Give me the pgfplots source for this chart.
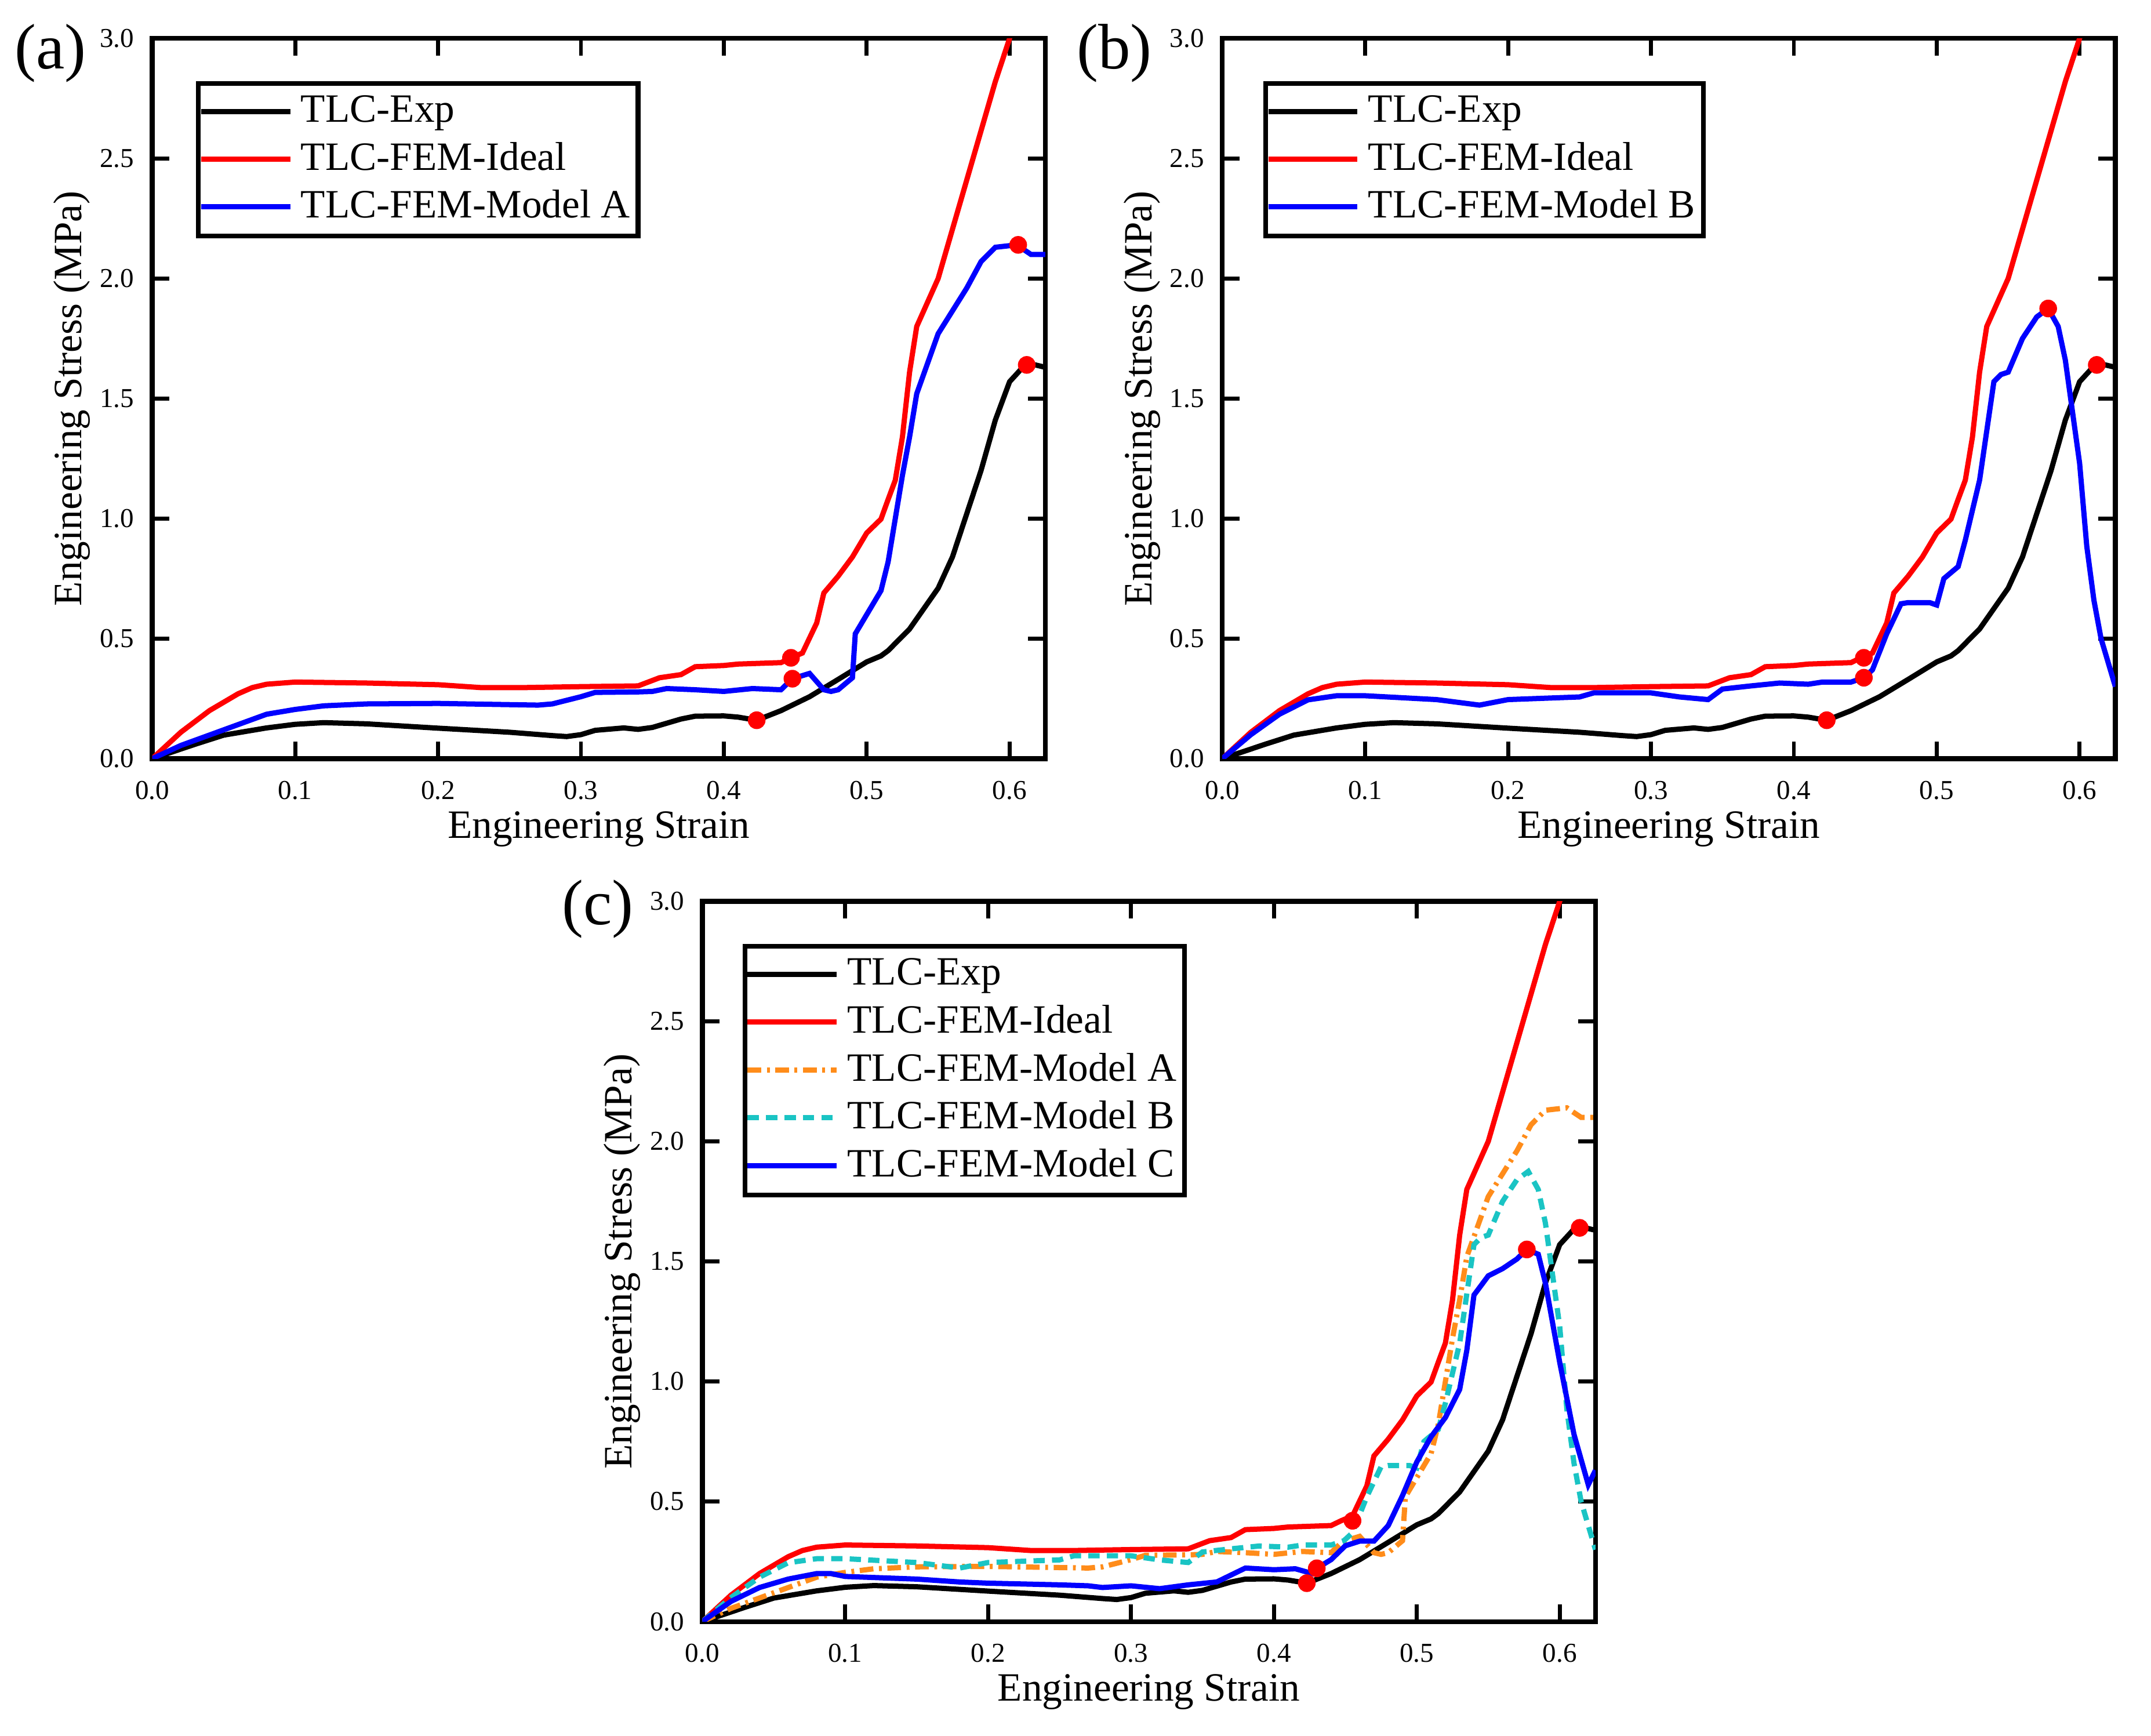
\documentclass[border=0pt]{standalone}
\usepackage{fontspec}
\setmainfont{Liberation Serif}
\usepackage{pgfplots}
\usepackage{pgfplotstable}
\pgfplotsset{compat=1.18}

\definecolor{morange}{RGB}{255,140,26}
\definecolor{mcyan}{RGB}{26,196,196}

% digitised curves: strain, stress (MPa)
\pgfplotstableread{
x y
0.000 0.000
0.010 0.020
0.020 0.040
0.030 0.060
0.050 0.098
0.080 0.128
0.100 0.143
0.120 0.150
0.150 0.145
0.200 0.127
0.250 0.110
0.280 0.096
0.290 0.092
0.300 0.100
0.310 0.118
0.330 0.128
0.340 0.122
0.350 0.130
0.370 0.165
0.380 0.177
0.400 0.178
0.410 0.173
0.423 0.160
0.440 0.200
0.460 0.258
0.480 0.330
0.500 0.403
0.510 0.428
0.515 0.450
0.530 0.540
0.550 0.710
0.560 0.840
0.580 1.200
0.590 1.410
0.600 1.570
0.610 1.635
0.618 1.640
0.625 1.630
}\expdata

\pgfplotstableread{
x y
0.000 0.000
0.020 0.110
0.040 0.200
0.050 0.235
0.060 0.270
0.070 0.296
0.080 0.310
0.100 0.319
0.150 0.315
0.200 0.308
0.230 0.296
0.260 0.296
0.300 0.300
0.340 0.303
0.355 0.337
0.370 0.350
0.380 0.383
0.400 0.388
0.410 0.394
0.440 0.400
0.447 0.420
0.455 0.440
0.465 0.565
0.470 0.690
0.480 0.760
0.490 0.840
0.500 0.940
0.510 0.998
0.515 1.080
0.520 1.160
0.525 1.340
0.530 1.610
0.535 1.800
0.550 2.000
0.570 2.410
0.590 2.820
0.600 3.000
0.605 3.100
}\idealdata

\pgfplotstableread{
x y
0.000 0.000
0.020 0.055
0.050 0.120
0.080 0.185
0.100 0.205
0.120 0.220
0.150 0.228
0.200 0.230
0.270 0.223
0.280 0.228
0.300 0.258
0.310 0.276
0.340 0.278
0.350 0.280
0.360 0.292
0.380 0.287
0.400 0.280
0.420 0.292
0.440 0.287
0.448 0.333
0.460 0.355
0.470 0.287
0.475 0.280
0.480 0.287
0.490 0.337
0.492 0.520
0.500 0.600
0.510 0.700
0.515 0.820
0.520 1.000
0.525 1.180
0.530 1.340
0.535 1.520
0.550 1.770
0.570 1.960
0.580 2.070
0.590 2.130
0.605 2.140
0.615 2.100
0.625 2.100
}\modelAdata

\pgfplotstableread{
x y
0.000 0.000
0.020 0.100
0.040 0.185
0.060 0.245
0.080 0.262
0.100 0.262
0.150 0.246
0.180 0.223
0.200 0.246
0.250 0.257
0.260 0.274
0.300 0.274
0.320 0.257
0.340 0.246
0.350 0.290
0.370 0.303
0.390 0.315
0.410 0.310
0.420 0.319
0.440 0.319
0.449 0.337
0.455 0.370
0.465 0.520
0.475 0.645
0.480 0.650
0.495 0.650
0.500 0.640
0.505 0.750
0.515 0.800
0.520 0.910
0.530 1.160
0.540 1.570
0.545 1.600
0.550 1.610
0.560 1.750
0.570 1.840
0.578 1.875
0.585 1.800
0.590 1.660
0.600 1.230
0.605 0.885
0.610 0.660
0.615 0.500
0.625 0.300
}\modelBdata

\pgfplotstableread{
x y
0.000 0.000
0.020 0.084
0.040 0.142
0.060 0.177
0.080 0.200
0.090 0.200
0.100 0.188
0.150 0.177
0.180 0.165
0.200 0.160
0.250 0.153
0.270 0.149
0.280 0.142
0.300 0.149
0.320 0.137
0.340 0.153
0.360 0.165
0.380 0.223
0.400 0.216
0.415 0.220
0.427 0.200
0.430 0.222
0.440 0.258
0.450 0.316
0.460 0.335
0.470 0.335
0.480 0.400
0.490 0.525
0.500 0.665
0.510 0.770
0.520 0.850
0.530 0.967
0.535 1.130
0.540 1.360
0.550 1.440
0.560 1.470
0.570 1.510
0.577 1.550
0.585 1.530
0.590 1.410
0.600 1.080
0.610 0.780
0.620 0.570
0.625 0.630
}\modelCdata

\pgfplotsset{
  panel/.style={
    scale only axis, width=7.812cm, height=6.3cm,
    xmin=0, xmax=0.625, ymin=0, ymax=3,
    xtick={0,0.1,0.2,0.3,0.4,0.5,0.6},
    ytick={0,0.5,1,1.5,2,2.5,3},
    scaled ticks=false,
    /pgf/number format/fixed,
    /pgf/number format/fixed zerofill,
    /pgf/number format/precision=1,
    /pgf/number format/assume math mode=true,
    tick align=inside, major tick length=0.15cm,
    axis line style={line width=1.2pt},
    every tick/.style={black, line width=1pt},
    tick label style={font=\fontsize{6.8}{7}\selectfont},
    xticklabel shift=2pt, yticklabel shift=1pt,
    label style={font=\fontsize{8.8}{10.5}\selectfont},
    xlabel={Engineering Strain}, ylabel={Engineering Stress (MPa)},
    every axis x label/.style={at={(axis description cs:0.5,-0.098)}, anchor=center},
    every axis y label/.style={at={(axis description cs:-0.09,0.5)}, rotate=90, anchor=center},
    clip mode=individual,
    legend cell align=left,
    legend style={anchor=north west, draw=black, line width=1.2pt,
      font=\fontsize{10}{12}\selectfont, inner xsep=0pt, inner ysep=1pt, row sep=-0.5pt,
      nodes={inner xsep=2pt}},
    legend image code/.code={\draw[##1] (0cm,0cm) -- (0.78cm,0cm);},
  },
  curve/.style={line width=1.3pt},
  dots/.style={only marks, mark=*, mark size=2pt, red, forget plot},
}

\begin{document}
\begin{tikzpicture}

% (a)
\begin{axis}[panel, at={(1.332cm,8.544cm)}, anchor=south west,
  legend style={at={(0.049,0.941)}}]
\addplot[curve, black] table {\expdata};
\addplot[curve, red] table {\idealdata};
\addplot[curve, blue] table {\modelAdata};
\addplot[dots] coordinates {(0.423,0.160) (0.447,0.420) (0.448,0.333) (0.606,2.140) (0.612,1.640)};
\legend{TLC-Exp, TLC-FEM-Ideal, TLC-FEM-Model A}
\node[font=\fontsize{16}{16}\selectfont] at (rel axis cs:-0.114,0.979) {(a)};
\end{axis}

% (b)
\begin{axis}[panel, at={(10.692cm,8.544cm)}, anchor=south west,
  legend style={at={(0.046,0.941)}}]
\addplot[curve, black] table {\expdata};
\addplot[curve, red] table {\idealdata};
\addplot[curve, blue] table {\modelBdata};
\addplot[dots] coordinates {(0.423,0.160) (0.449,0.420) (0.449,0.337) (0.578,1.875) (0.612,1.640)};
\legend{TLC-Exp, TLC-FEM-Ideal, TLC-FEM-Model B}
\node[font=\fontsize{16}{16}\selectfont] at (rel axis cs:-0.121,0.979) {(b)};
\end{axis}

% (c)
\begin{axis}[panel, at={(6.144cm,0.996cm)}, anchor=south west,
  legend style={at={(0.045,0.941)}}]
\addplot[curve, black] table {\expdata};
\addplot[curve, red] table {\idealdata};
\addplot[curve, morange, dash pattern=on 3.4pt off 1.4pt on 0.7pt off 1.4pt] table {\modelAdata};
\addplot[curve, mcyan, dash pattern=on 2.8pt off 1.8pt] table {\modelBdata};
\addplot[curve, blue] table {\modelCdata};
\addplot[dots] coordinates {(0.423,0.160) (0.430,0.222) (0.455,0.420) (0.577,1.550) (0.614,1.640)};
\legend{TLC-Exp, TLC-FEM-Ideal, TLC-FEM-Model A, TLC-FEM-Model B, TLC-FEM-Model C}
\node[font=\fontsize{16}{16}\selectfont] at (rel axis cs:-0.117,0.989) {(c)};
\end{axis}

\pgfresetboundingbox
\useasboundingbox (0,0) rectangle (18.816cm,15.18cm);
\end{tikzpicture}
\end{document}
